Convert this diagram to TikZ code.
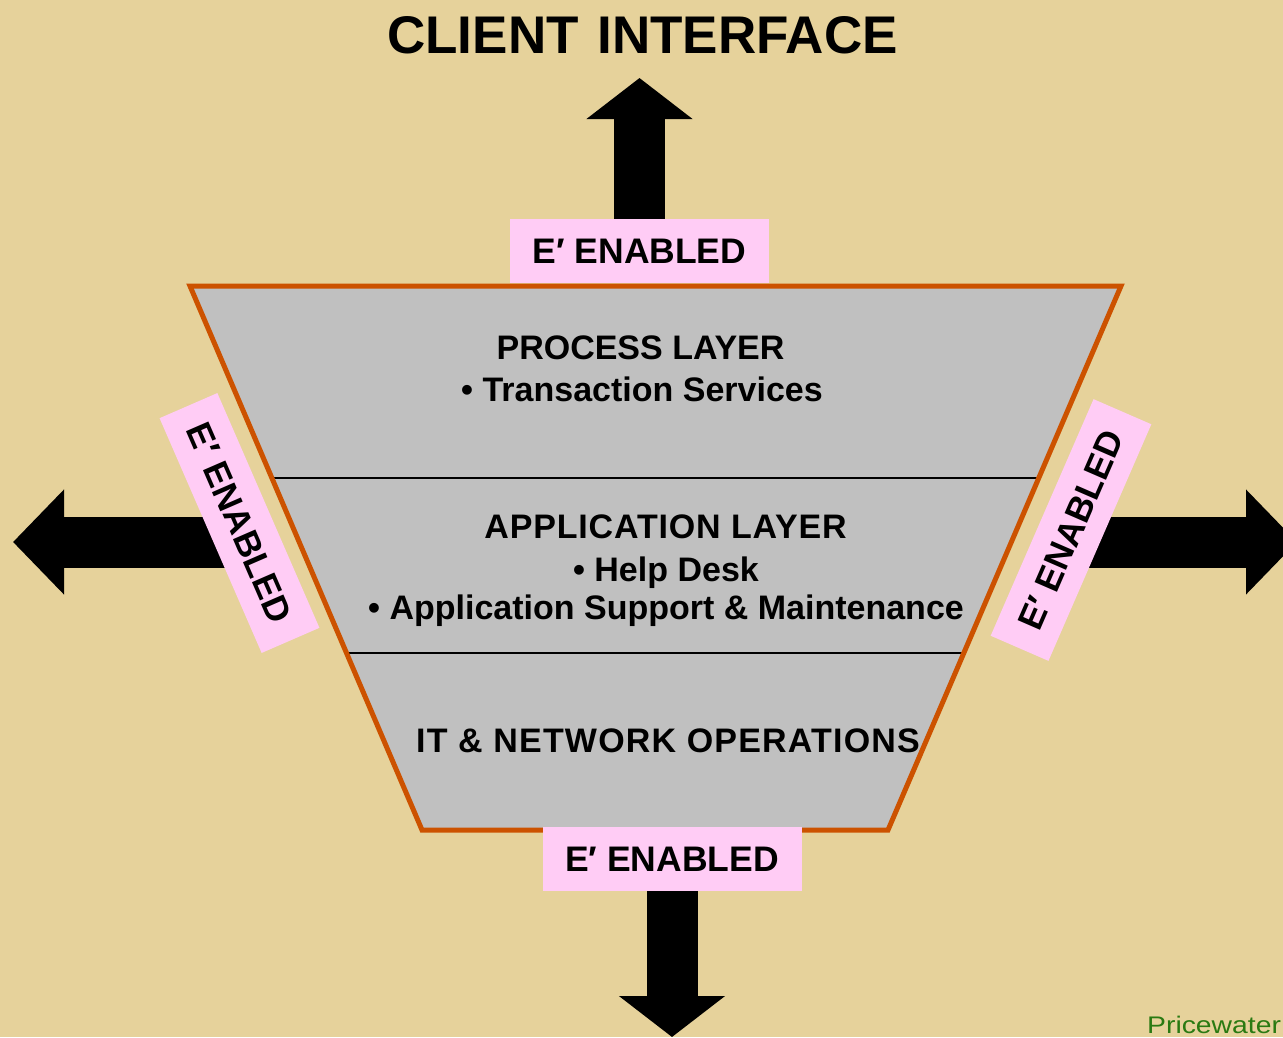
\documentclass[tikz,border=0pt]{standalone}
\usepackage{fontspec}
\setmainfont{Liberation Sans}
\newfontfamily\pwcfont[FakeStretch=1.18]{Liberation Sans}
\usepackage{xcolor}
\usetikzlibrary{calc}
\usetikzlibrary{arrows.meta}
\definecolor{bgtan}{RGB}{230,210,155}
\definecolor{layergray}{RGB}{192,192,192}
\definecolor{rimorange}{RGB}{204,82,0}
\definecolor{epink}{RGB}{255,204,245}
\definecolor{pwcgreen}{RGB}{42,122,18}
\pgfdeclarelayer{background}
\pgfdeclarelayer{arrowlayer}
\pgfsetlayers{background,arrowlayer,main}
\tikzset{
	labelfont/.style={font=\bfseries\fontsize{34}{40}\selectfont},
	layertext/.style={labelfont,anchor=base,inner sep=0pt},
	enabled/.style={font=\bfseries\fontsize{35.5}{40}\selectfont,fill=epink,minimum width=259pt,minimum height=64pt,inner sep=0pt},
	bigarrow/.style={line width=51pt,-{Triangle[length=41pt,width=104pt]}},
	divider/.style={line width=2.5pt},
}

\begin{document}
\begin{tikzpicture}[x=1pt,y=-1pt]
	\useasboundingbox (0,0) rectangle (1283,1037);
	\begin{pgfonlayer}{background}
		\fill[bgtan] (0,0) rectangle (1283,1037);
	\end{pgfonlayer}
	\node[anchor=base,inner sep=0pt,font=\bfseries\fontsize{53}{60}\selectfont] (title) at (642.5,53) {CLIENT\hspace{4pt} INTERFACE};
	\coordinate (tl) at (190,286);
	\coordinate (tr) at (1121,286);
	\coordinate (br) at (888,830);
	\coordinate (bl) at (422,830);
	\fill[layergray] (tl)--(tr)--(br)--(bl)--cycle;
	\draw[divider] ($(tl)!0.353!(bl)$) -- ($(tr)!0.353!(br)$);
	\draw[divider] ($(tl)!0.675!(bl)$) -- ($(tr)!0.675!(br)$);
	\draw[rimorange,line width=5pt,line join=miter] (tl)--(tr)--(br)--(bl)--cycle;
	\node[layertext] (proc) at (640.5,359) {PROCESS LAYER};
	\node[layertext] (procA) at (642,401) {\textbullet\ Transaction Services};
	\node[layertext] (app) at (665.5,538) {\addfontfeatures{LetterSpace=2.5}APPLICATION LAYER};
	\node[layertext] (appA) at (666,581) {\textbullet\ Help Desk};
	\node[layertext] (appB) at (666,619) {\textbullet\ Application Support \& Maintenance};
	\node[layertext] (itnet) at (668,752) {\addfontfeatures{LetterSpace=3.5}IT \& NETWORK OPERATIONS};
	\node[enabled] (ptop) at (639.5,251) {E′ ENABLED};
	\node[enabled] (pbot) at (672,859) {E′ ENABLED};
	\node[enabled,rotate=-66.5,minimum width=256pt,minimum height=63pt] (pleft) at (239.5,523) {E′ ENABLED};
	\node[enabled,rotate=66.5,minimum width=258pt,minimum height=63pt] (pright) at (1071,530) {E′ ENABLED};
	\coordinate (toptip) at (639.5,78);
	\coordinate (bottip) at (672,1037);
	\coordinate (lefttip) at (13,542);
	\coordinate (righttip) at (1297,542);
	\begin{pgfonlayer}{arrowlayer}
		\draw[bigarrow] (ptop) -- (toptip);
		\draw[bigarrow] (pbot) -- (bottip);
		\draw[bigarrow,-{Triangle[length=51pt,width=102pt]}] (pleft |- lefttip) -- (lefttip);
		\draw[bigarrow,-{Triangle[length=51pt,width=102pt]}] (pright |- righttip) -- (righttip);
	\end{pgfonlayer}
	\node[anchor=base west,inner sep=0pt,text=pwcgreen,font=\pwcfont\fontsize{24}{28}\selectfont] (pwc) at (1147,1033) {Pricewater};
\end{tikzpicture}
\end{document}
